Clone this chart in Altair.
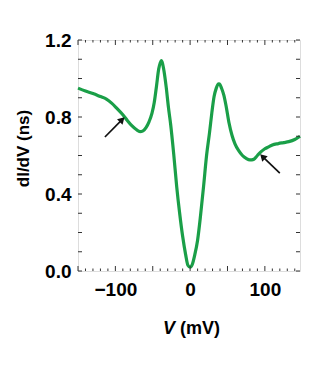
import altair as alt
import pandas as pd

# Curve data: bias V (mV) and dI/dV (ns)
V = [-150, -140, -130, -120, -112, -105, -98, -90, -84, -78, -72, -67, -63, -59, -55, -51,
     -48, -45, -42, -40, -38.5, -37, -35, -32, -29, -26, -22, -18, -14, -10, -6, -3, 0,
     3, 6, 10, 14, 18, 22, 26, 29, 32, 35, 37, 38.5, 40, 42, 45, 48, 52, 56, 60, 65, 70,
     75, 80, 85, 90, 95, 100, 105, 110, 118, 125, 132, 140, 147]
G = [0.950, 0.935, 0.922, 0.906, 0.893, 0.872, 0.845, 0.812, 0.782, 0.755, 0.735, 0.724,
     0.728, 0.745, 0.775, 0.820, 0.875, 0.960, 1.050, 1.080, 1.093, 1.080, 1.040, 0.955,
     0.850, 0.760, 0.610, 0.440, 0.300, 0.180, 0.085, 0.030, 0.020, 0.035, 0.080, 0.160,
     0.290, 0.440, 0.600, 0.720, 0.820, 0.905, 0.950, 0.968, 0.972, 0.968, 0.950, 0.915,
     0.860, 0.770, 0.705, 0.660, 0.625, 0.600, 0.585, 0.577, 0.580, 0.600, 0.620, 0.635,
     0.645, 0.655, 0.662, 0.667, 0.672, 0.683, 0.700]

# Arrows (tail -> tip) in data coordinates
arrow_id = ["left", "right"]
arrow_x_tail = [-114, 120]
arrow_y_tail = [0.696, 0.509]
arrow_x_tip = [-92, 98]
arrow_y_tip = [0.782, 0.590]
arrow_angle = [45, 315]

x_labels = [-100, 0, 100]
y_labels = [0.0, 0.4, 0.8, 1.2]
x_major = [-150, -100, -50, 0, 50, 100]
x_minor = [v for v in range(-150, 148, 10) if v % 50 != 0]
y_ticks = [round(i * 0.1, 1) for i in range(0, 13)]

XDOM = [-150, 147]
YDOM = [0, 1.2]
W, H = 222, 231
GREEN = "#1a9f48"
FONT = "Liberation Sans"

xs = alt.Scale(domain=XDOM, nice=False, zero=False)
ys = alt.Scale(domain=YDOM, nice=False)

df = pd.DataFrame({"V": V, "G": G})
arr = pd.DataFrame({"id": arrow_id, "x0": arrow_x_tail, "y0": arrow_y_tail,
                    "x1": arrow_x_tip, "y1": arrow_y_tip, "ang": arrow_angle})

line = alt.Chart(df).mark_line(color=GREEN, strokeWidth=3.2, interpolate="monotone").encode(
    x=alt.X("V:Q", scale=xs,
            axis=alt.Axis(values=x_labels, ticks=False, domain=False, grid=False,
                          labelFont=FONT, labelFontWeight="bold", labelFontSize=19,
                          labelColor="black", labelPadding=9, title=None)),
    y=alt.Y("G:Q", scale=ys,
            axis=alt.Axis(values=y_labels, format=".1f", ticks=False, domain=False, grid=False,
                          labelFont=FONT, labelFontWeight="bold", labelFontSize=19,
                          labelColor="black", labelPadding=7,
                          title="dI/dV (ns)", titleFont=FONT, titleFontWeight="bold",
                          titleFontSize=17, titleColor="black",
                          titleX=-46, titleY=108, titleAngle=270)),
)

ytick_df = pd.DataFrame({"y": y_ticks})
ytick_l = alt.Chart(ytick_df).mark_rule(color="#333", strokeWidth=1).encode(
    y=alt.Y("y:Q", scale=ys), x=alt.value(0), x2=alt.value(4))
ytick_r = alt.Chart(ytick_df).mark_rule(color="#333", strokeWidth=1).encode(
    y=alt.Y("y:Q", scale=ys), x=alt.value(W), x2=alt.value(W - 4))

xmaj_df = pd.DataFrame({"x": x_major})
xmin_df = pd.DataFrame({"x": x_minor})
xmaj_b = alt.Chart(xmaj_df).mark_rule(color="#333", strokeWidth=1).encode(
    x=alt.X("x:Q", scale=xs), y=alt.value(H), y2=alt.value(H - 5))
xmaj_t = alt.Chart(xmaj_df).mark_rule(color="#333", strokeWidth=1).encode(
    x=alt.X("x:Q", scale=xs), y=alt.value(0), y2=alt.value(5))
xmin_b = alt.Chart(xmin_df).mark_rule(color="#333", strokeWidth=1).encode(
    x=alt.X("x:Q", scale=xs), y=alt.value(H), y2=alt.value(H - 2.5))
xmin_t = alt.Chart(xmin_df).mark_rule(color="#333", strokeWidth=1).encode(
    x=alt.X("x:Q", scale=xs), y=alt.value(0), y2=alt.value(2.5))

arrow_shaft = alt.Chart(arr).mark_rule(color="#111", strokeWidth=1.7).encode(
    x=alt.X("x0:Q", scale=xs), y=alt.Y("y0:Q", scale=ys),
    x2="x1:Q", y2="y1:Q")
arrow_head = alt.Chart(arr).mark_point(shape="triangle", filled=True, color="#111",
                                       size=60, opacity=1).encode(
    x=alt.X("x1:Q", scale=xs), y=alt.Y("y1:Q", scale=ys),
    angle=alt.Angle("ang:Q", scale=None))

title_v = alt.Chart(pd.DataFrame({"t": ["V"]})).mark_text(
    font=FONT, fontSize=18, fontWeight="bold", fontStyle="italic", align="right",
    baseline="alphabetic", color="black").encode(
    text="t:N", x=alt.value(97), y=alt.value(294))
title_mv = alt.Chart(pd.DataFrame({"t": ["(mV)"]})).mark_text(
    font=FONT, fontSize=18, fontWeight="bold", align="left",
    baseline="alphabetic", color="black").encode(
    text="t:N", x=alt.value(102), y=alt.value(294))

chart = alt.layer(
    line, ytick_l, ytick_r, xmaj_b, xmaj_t, xmin_b, xmin_t,
    arrow_shaft, arrow_head, title_v, title_mv
).properties(
    width=W, height=H,
    autosize=alt.AutoSizeParams(type="none"),
    padding={"left": 70, "top": 32, "right": 19, "bottom": 113},
).configure_view(
    stroke="#222", strokeWidth=1.2
).configure(background="white")

chart.save("out.html", embed_options={"renderer": "svg", "actions": False})
